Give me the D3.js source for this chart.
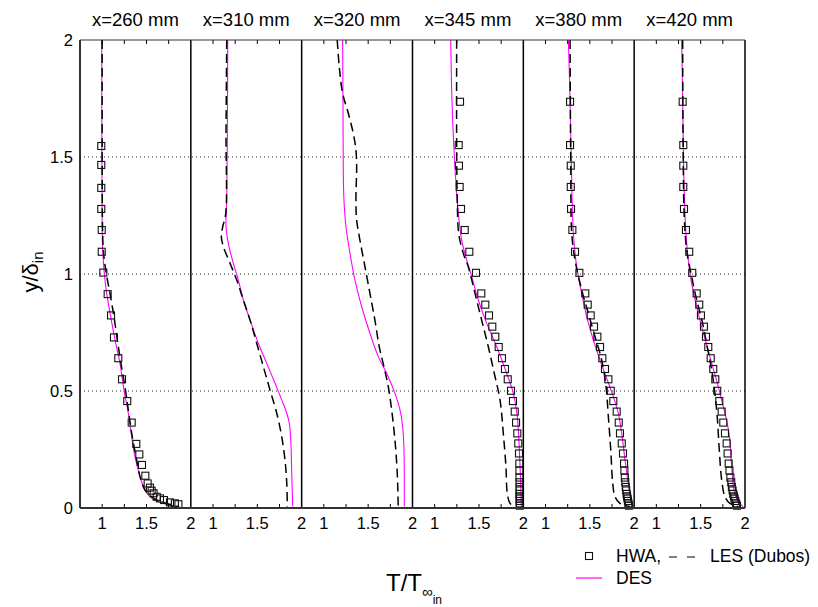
<!DOCTYPE html>
<html><head><meta charset="utf-8">
<script src="https://cdn.jsdelivr.net/npm/d3@7"></script>
<style>body{margin:0;background:#fff}svg{display:block;font-family:"Liberation Sans",Arial,sans-serif}</style>
</head><body><svg id="c" width="818" height="607"></svg>
<script>
const titles = ["x=260 mm","x=310 mm","x=320 mm","x=345 mm","x=380 mm","x=420 mm"];
const xTickLabels = [1, 1.5, 2];
const xMinorTicks = [1, 1.25, 1.5, 1.75];
const yTickLabels = [0, 0.5, 1, 1.5, 2];
const yGrid = [0.5, 1, 1.5];

// HWA heights (fine grid used at 345, 380, 420 mm)
const hwaYfine = [1.736,1.551,1.463,1.372,1.278,1.188,1.095,1.005,0.917,0.869,0.823,0.775,0.732,0.688,0.64,0.594,0.55,0.501,0.457,0.412,0.365,0.319,0.276,0.233,0.19,0.16,0.13,0.11,0.09,0.075,0.06,0.05,0.04,0.03,0.02,0.01];

// x = 260 mm
const hwa260T = [0.99,0.99,0.99,0.99,0.995,0.995,1.013,1.062,1.10,1.133,1.182,1.224,1.283,1.333,1.385,1.419,1.449,1.487,1.513,1.539,1.558,1.58,1.615,1.652,1.697,1.765,1.82,1.86];
const hwa260Y = [1.547,1.466,1.368,1.278,1.188,1.095,1.006,0.914,0.823,0.729,0.64,0.55,0.457,0.365,0.274,0.229,0.184,0.138,0.105,0.087,0.074,0.063,0.048,0.041,0.034,0.024,0.02,0.016];
const les260T = [1.0,1.0,1.004,1.013,1.04,1.088,1.133,1.171,1.212,1.257,1.295,1.333,1.382,1.427,1.483,1.559,1.652,1.802,1.86];
const les260Y = [2,1.5,1.2,1.103,1.017,0.917,0.818,0.718,0.618,0.518,0.419,0.319,0.219,0.134,0.077,0.048,0.027,0.013,0.006];
const des260T = [0.995,0.997,1.0,1.006,1.024,1.051,1.096,1.145,1.201,1.246,1.295,1.333,1.37,1.427,1.483,1.559,1.69,1.915];
const des260Y = [2,1.5,1.2,1.103,1.003,0.917,0.818,0.718,0.618,0.504,0.405,0.305,0.219,0.134,0.077,0.041,0.02,0.0];

// x = 310 mm
const les310T = [1.155,1.147,1.144,1.11,1.094,1.117,1.192,1.268,1.342,1.418,1.493,1.568,1.643,1.719,1.775,1.812,1.832,1.838];
const les310Y = [2,1.601,1.259,1.202,1.159,1.117,1.046,0.974,0.889,0.803,0.704,0.604,0.504,0.405,0.305,0.205,0.106,0.006];
const des310T = [1.166,1.162,1.155,1.147,1.173,1.229,1.286,1.342,1.418,1.511,1.606,1.7,1.775,1.832,1.861,1.877,1.888,1.899];
const des310Y = [2,1.601,1.316,1.202,1.131,1.046,0.974,0.889,0.803,0.704,0.618,0.533,0.462,0.405,0.362,0.291,0.148,0.006];

// x = 320 mm
const les320T = [1.151,1.174,1.212,1.276,1.332,1.362,1.37,1.362,1.37,1.407,1.464,1.52,1.576,1.625,1.678,1.727,1.765,1.802,1.828,1.839];
const les320Y = [2,1.886,1.772,1.687,1.601,1.53,1.459,1.316,1.231,1.145,1.031,0.917,0.803,0.689,0.604,0.518,0.419,0.291,0.148,0.006];
const des320T = [1.212,1.216,1.219,1.227,1.25,1.295,1.351,1.427,1.52,1.614,1.709,1.802,1.859,1.889,1.904,1.907];
const des320Y = [2,1.744,1.459,1.316,1.202,1.088,0.974,0.86,0.747,0.647,0.576,0.49,0.419,0.347,0.248,0.006];

// x = 345 mm
const hwa345T = [1.286,1.271,1.274,1.282,1.297,1.339,1.391,1.466,1.526,1.571,1.613,1.65,1.684,1.722,1.759,1.793,1.824,1.861,1.883,1.903,1.918,1.932,1.943,1.951,1.955,1.956,1.957,1.957,1.958,1.958,1.958,1.959,1.959,1.959,1.96,1.96];
const les345T = [1.248,1.248,1.255,1.271,1.323,1.379,1.455,1.53,1.605,1.672,1.737,1.774,1.804,1.819,1.85,1.906];
const les345Y = [2,1.544,1.316,1.174,1.088,1.031,0.917,0.803,0.689,0.576,0.462,0.319,0.176,0.063,0.02,0.006];
const des345T = [1.181,1.195,1.218,1.248,1.267,1.305,1.361,1.418,1.492,1.587,1.7,1.812,1.887,1.932,1.955,1.97,1.977];
const des345Y = [2,1.744,1.53,1.345,1.259,1.145,1.06,0.989,0.889,0.789,0.689,0.576,0.49,0.39,0.248,0.106,0.006];

// x = 380 mm
const hwa380T = [1.277,1.277,1.285,1.285,1.288,1.303,1.333,1.382,1.449,1.476,1.51,1.547,1.585,1.615,1.641,1.671,1.709,1.736,1.765,1.803,1.826,1.84,1.86,1.874,1.886,1.89,1.895,1.9,1.905,1.91,1.915,1.92,1.925,1.93,1.935,1.94];
const les380T = [1.277,1.285,1.296,1.333,1.408,1.483,1.559,1.634,1.683,1.709,1.736,1.758,1.784,1.84,1.953];
const les380Y = [2,1.459,1.174,1.06,0.932,0.832,0.732,0.632,0.518,0.39,0.248,0.106,0.048,0.02,0.006];
const des380T = [1.258,1.277,1.296,1.314,1.352,1.408,1.465,1.539,1.615,1.697,1.765,1.821,1.86,1.897,1.934,1.972,1.99];
const des380Y = [2,1.744,1.387,1.174,1.031,0.917,0.818,0.718,0.632,0.547,0.476,0.405,0.319,0.205,0.106,0.034,0.006];

// x = 420 mm
const hwa420T = [1.297,1.304,1.304,1.304,1.312,1.334,1.371,1.405,1.455,1.484,1.503,1.537,1.56,1.586,1.613,1.642,1.665,1.687,1.71,1.737,1.755,1.774,1.793,1.804,1.816,1.825,1.835,1.845,1.852,1.86,1.868,1.875,1.882,1.89,1.9,1.91];
const les420T = [1.297,1.304,1.315,1.342,1.398,1.455,1.522,1.574,1.624,1.661,1.687,1.71,1.737,1.774,1.83,1.924];
const les420Y = [2,1.459,1.245,1.103,0.989,0.889,0.789,0.689,0.59,0.49,0.39,0.248,0.12,0.048,0.02,0.006];
const des420T = [1.286,1.297,1.312,1.334,1.36,1.398,1.455,1.511,1.574,1.635,1.699,1.755,1.8,1.83,1.85,1.876,1.924,1.98];
const des420Y = [2,1.744,1.387,1.174,1.06,0.96,0.86,0.775,0.689,0.604,0.518,0.433,0.362,0.29,0.176,0.077,0.027,0.006];

const panels = [
  {hwaT:hwa260T, hwaY:hwa260Y, lesT:les260T, lesY:les260Y, desT:des260T, desY:des260Y},
  {hwaT:[], hwaY:[], lesT:les310T, lesY:les310Y, desT:des310T, desY:des310Y},
  {hwaT:[], hwaY:[], lesT:les320T, lesY:les320Y, desT:des320T, desY:des320Y},
  {hwaT:hwa345T, hwaY:hwaYfine, lesT:les345T, lesY:les345Y, desT:des345T, desY:des345Y},
  {hwaT:hwa380T, hwaY:hwaYfine, lesT:les380T, lesY:les380Y, desT:des380T, desY:des380Y},
  {hwaT:hwa420T, hwaY:hwaYfine, lesT:les420T, lesY:les420Y, desT:des420T, desY:des420Y}
];

const svg = d3.select("#c");
const L = 80, R = 745, T = 40, B = 508;
const pw = (R - L) / titles.length;
const y = d3.scaleLinear().domain([0, 2]).range([B, T]);

// grid
svg.append("g").selectAll("line").data(yGrid).join("line")
  .attr("x1", L).attr("x2", R).attr("y1", d => y(d)).attr("y2", d => y(d))
  .attr("stroke", "#222").attr("stroke-width", 1).attr("stroke-dasharray", "1,3");

// y tick labels
svg.append("g").selectAll("text").data(yTickLabels).join("text")
  .attr("x", 73).attr("y", d => y(d)).attr("dy", "0.36em")
  .attr("text-anchor", "end").attr("font-size", 16.5).text(d => d);

const defs = svg.append("defs");

panels.forEach((p, i) => {
  const x0 = L + i * pw;
  const x = d3.scaleLinear().domain([0.75, 2]).range([x0, x0 + pw]);
  defs.append("clipPath").attr("id", "clip" + i).append("rect")
    .attr("x", x0).attr("y", T).attr("width", pw).attr("height", B - T);
  const g = svg.append("g");
  const gc = g.append("g").attr("clip-path", `url(#clip${i})`);

  const line = d3.line().x(d => x(d[0])).y(d => y(d[1])).curve(d3.curveCatmullRom.alpha(0.5));
  gc.append("path").datum(d3.zip(p.desT, p.desY)).attr("d", line)
    .attr("fill", "none").attr("stroke", "#ff00ff").attr("stroke-width", 1.1);
  gc.append("path").datum(d3.zip(p.lesT, p.lesY)).attr("d", line)
    .attr("fill", "none").attr("stroke", "#000").attr("stroke-width", 1.5).attr("stroke-dasharray", "9,5");
  g.append("g").selectAll("rect").data(d3.zip(p.hwaT, p.hwaY)).join("rect")
    .attr("x", d => x(d[0]) - 3.5).attr("y", d => y(d[1]) - 3.5)
    .attr("width", 7).attr("height", 7)
    .attr("fill", "none").attr("stroke", "#111").attr("stroke-width", 1.1);

  // minor ticks top and bottom
  g.append("g").selectAll("line").data(xMinorTicks).join("line")
    .attr("x1", d => x(d)).attr("x2", d => x(d)).attr("y1", T).attr("y2", T + 4)
    .attr("stroke", "#000").attr("stroke-width", 1);
  g.append("g").selectAll("line").data(xMinorTicks).join("line")
    .attr("x1", d => x(d)).attr("x2", d => x(d)).attr("y1", B).attr("y2", B - 4)
    .attr("stroke", "#000").attr("stroke-width", 1);
  // tick labels
  g.append("g").selectAll("text").data(xTickLabels).join("text")
    .attr("x", d => x(d)).attr("y", 529).attr("text-anchor", "middle")
    .attr("font-size", 16.5).text(d => d);
  // title
  g.append("text").attr("x", x0 + pw / 2).attr("y", 26).attr("text-anchor", "middle")
    .attr("font-size", 18.5).text(titles[i]);
  // right border
  g.append("line").attr("x1", x0 + pw).attr("x2", x0 + pw).attr("y1", T).attr("y2", B)
    .attr("stroke", "#000").attr("stroke-width", 1.5);
});

// frame
svg.append("line").attr("x1", L).attr("x2", R).attr("y1", T).attr("y2", T).attr("stroke", "#333").attr("stroke-width", 1);
svg.append("line").attr("x1", L).attr("x2", R).attr("y1", B).attr("y2", B).attr("stroke", "#333").attr("stroke-width", 2);
svg.append("line").attr("x1", L).attr("x2", L).attr("y1", T).attr("y2", B).attr("stroke", "#333").attr("stroke-width", 2);

// y label
const yl = svg.append("text").attr("transform", "translate(38,272) rotate(-90)")
  .attr("text-anchor", "middle").attr("font-size", 22);
yl.append("tspan").text("y/δ");
yl.append("tspan").attr("font-size", 15).attr("dy", 5).text("in");

// x label
const xl = svg.append("text").attr("x", 386).attr("y", 591).attr("font-size", 24);
xl.append("tspan").text("T/T");
xl.append("tspan").attr("font-size", 15).attr("dy", 6).text("∞");
xl.append("tspan").attr("font-size", 12).attr("dy", 7).text("in");

// legend
const lg = svg.append("g");
lg.append("rect").attr("x", 585.5).attr("y", 552.5).attr("width", 7).attr("height", 7)
  .attr("fill", "none").attr("stroke", "#111").attr("stroke-width", 1.1);
lg.append("text").attr("x", 616).attr("y", 562).attr("font-size", 17.5).text("HWA,");
lg.append("line").attr("x1", 669).attr("x2", 695).attr("y1", 557).attr("y2", 557)
  .attr("stroke", "#000").attr("stroke-width", 1.2).attr("stroke-dasharray", "8,10");
lg.append("text").attr("x", 710).attr("y", 562).attr("font-size", 17.5).text("LES (Dubos)");
lg.append("line").attr("x1", 576).attr("x2", 602).attr("y1", 578).attr("y2", 578)
  .attr("stroke", "#ff00ff").attr("stroke-width", 1.2);
lg.append("text").attr("x", 616).attr("y", 584).attr("font-size", 17.5).text("DES");
</script></body></html>
